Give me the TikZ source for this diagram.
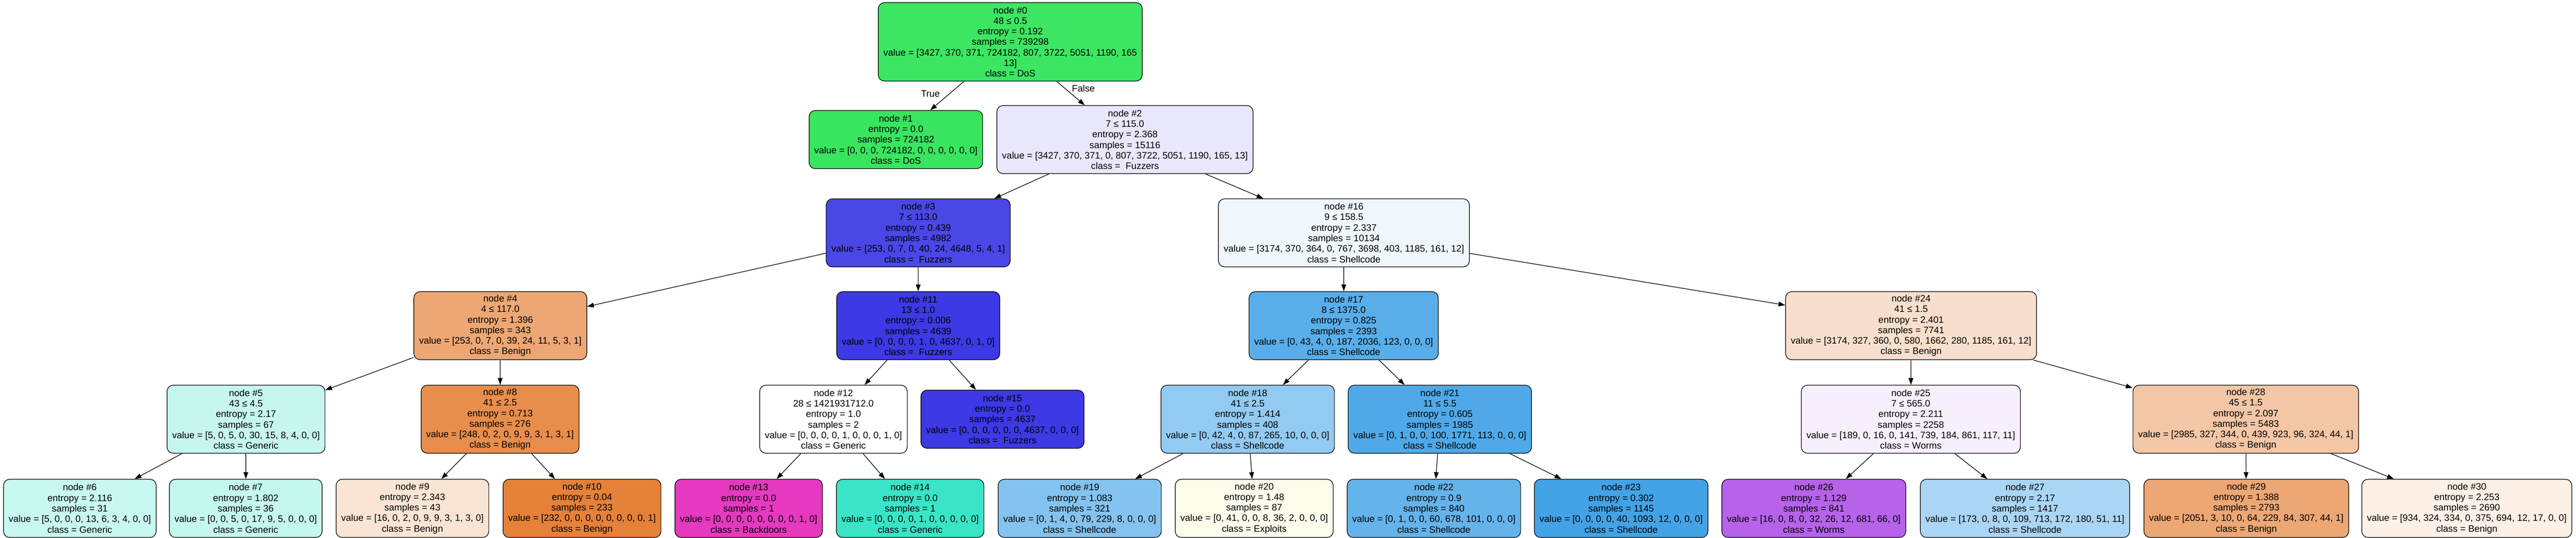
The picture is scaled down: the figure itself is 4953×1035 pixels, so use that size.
\documentclass[tikz,border=0pt]{standalone}
\usepackage{fontspec}
\setmainfont{Liberation Sans}
\usetikzlibrary{arrows.meta}

\definecolor{benign}{HTML}{E58139}
\definecolor{exploits}{HTML}{E2E539}
\definecolor{dos}{HTML}{39E55F}
\definecolor{generic}{HTML}{39E5C6}
\definecolor{shellcode}{HTML}{399EE5}
\definecolor{fuzzers}{HTML}{3C39E5}
\definecolor{worms}{HTML}{A339E5}
\definecolor{backdoors}{HTML}{E539C0}

\begin{document}
\begin{tikzpicture}[x=1pt, y=-1pt,
  box/.style={draw=black, line width=1.2pt, rounded corners=12pt, align=center,
    inner xsep=10pt, inner ysep=3pt, font={\fontsize{18}{20.3}\selectfont}},
  split/.style={box, minimum height=131pt},
  leaf/.style={box, minimum height=112pt},
  edge/.style={line width=1.2pt, -{Triangle[length=13pt,width=9pt]}},
  elabel/.style={font={\fontsize{18}{20.3}\selectfont}}]
\fill[white] (0,0) rectangle (4953,1035);
\useasboundingbox (0,0) rectangle (4953,1035);

% level 0
\node[box, minimum height=151pt, fill=dos!98!white] (n0) at (1942.5,80.5)
  {node \#0\\48 ≤ 0.5\\entropy = 0.192\\samples = 739298\\value = [3427, 370, 371, 724182, 807, 3722, 5051, 1190, 165\\13]\\class = DoS};

% level 1
\node[leaf, fill=dos] (n1) at (1722.5,268.5)
  {node \#1\\entropy = 0.0\\samples = 724182\\value = [0, 0, 0, 724182, 0, 0, 0, 0, 0, 0]\\class = DoS};
\node[split, fill=fuzzers!12!white] (n2) at (2163,268.5)
  {node \#2\\7 ≤ 115.0\\entropy = 2.368\\samples = 15116\\value = [3427, 370, 371, 0, 807, 3722, 5051, 1190, 165, 13]\\class =~ Fuzzers};

% level 2
\node[split, fill=fuzzers!93!white] (n3) at (1765.5,448)
  {node \#3\\7 ≤ 113.0\\entropy = 0.439\\samples = 4982\\value = [253, 0, 7, 0, 40, 24, 4648, 5, 4, 1]\\class =~ Fuzzers};
\node[split, fill=shellcode!8!white] (n16) at (2584,448)
  {node \#16\\9 ≤ 158.5\\entropy = 2.337\\samples = 10134\\value = [3174, 370, 364, 0, 767, 3698, 403, 1185, 161, 12]\\class = Shellcode};

% level 3
\node[split, fill=benign!70!white] (n4) at (962,626.5)
  {node \#4\\4 ≤ 117.0\\entropy = 1.396\\samples = 343\\value = [253, 0, 7, 0, 39, 24, 11, 5, 3, 1]\\class = Benign};
\node[split, fill=fuzzers] (n11) at (1765.5,626.5)
  {node \#11\\13 ≤ 1.0\\entropy = 0.006\\samples = 4639\\value = [0, 0, 0, 0, 1, 0, 4637, 0, 1, 0]\\class =~ Fuzzers};
\node[split, fill=shellcode!84!white] (n17) at (2583.5,626.5)
  {node \#17\\8 ≤ 1375.0\\entropy = 0.825\\samples = 2393\\value = [0, 43, 4, 0, 187, 2036, 123, 0, 0, 0]\\class = Shellcode};
\node[split, fill=benign!25!white] (n24) at (3674.5,626.5)
  {node \#24\\41 ≤ 1.5\\entropy = 2.401\\samples = 7741\\value = [3174, 327, 360, 0, 580, 1662, 280, 1185, 161, 12]\\class = Benign};

% level 4
\node[split, fill=generic!29!white] (n5) at (473,806.5)
  {node \#5\\43 ≤ 4.5\\entropy = 2.17\\samples = 67\\value = [5, 0, 5, 0, 30, 15, 8, 4, 0, 0]\\class = Generic};
\node[split, fill=benign!90!white] (n8) at (961.5,806.5)
  {node \#8\\41 ≤ 2.5\\entropy = 0.713\\samples = 276\\value = [248, 0, 2, 0, 9, 9, 3, 1, 3, 1]\\class = Benign};
\node[split, fill=white] (n12) at (1602.5,806.5)
  {node \#12\\28 ≤ 1421931712.0\\entropy = 1.0\\samples = 2\\value = [0, 0, 0, 0, 1, 0, 0, 0, 1, 0]\\class = Generic};
\node[leaf, fill=fuzzers] (n15) at (1927.5,806.5)
  {node \#15\\entropy = 0.0\\samples = 4637\\value = [0, 0, 0, 0, 0, 0, 4637, 0, 0, 0]\\class =~ Fuzzers};
\node[split, fill=shellcode!55!white] (n18) at (2399,806.5)
  {node \#18\\41 ≤ 2.5\\entropy = 1.414\\samples = 408\\value = [0, 42, 4, 0, 87, 265, 10, 0, 0, 0]\\class = Shellcode};
\node[split, fill=shellcode!89!white] (n21) at (2768.5,806.5)
  {node \#21\\11 ≤ 5.5\\entropy = 0.605\\samples = 1985\\value = [0, 1, 0, 0, 100, 1771, 113, 0, 0, 0]\\class = Shellcode};
\node[split, fill=worms!8!white] (n25) at (3674,806.5)
  {node \#25\\7 ≤ 565.0\\entropy = 2.211\\samples = 2258\\value = [189, 0, 16, 0, 141, 739, 184, 861, 117, 11]\\class = Worms};
\node[split, fill=benign!45!white] (n28) at (4318,806.5)
  {node \#28\\45 ≤ 1.5\\entropy = 2.097\\samples = 5483\\value = [2985, 327, 344, 0, 439, 923, 96, 324, 44, 1]\\class = Benign};

% level 5
\node[leaf, fill=generic!28!white] (n6) at (153.5,978)
  {node \#6\\entropy = 2.116\\samples = 31\\value = [5, 0, 0, 0, 13, 6, 3, 4, 0, 0]\\class = Generic};
\node[leaf, fill=generic!30!white] (n7) at (472.5,978)
  {node \#7\\entropy = 1.802\\samples = 36\\value = [0, 0, 5, 0, 17, 9, 5, 0, 0, 0]\\class = Generic};
\node[leaf, fill=benign!21!white] (n9) at (793,978)
  {node \#9\\entropy = 2.343\\samples = 43\\value = [16, 0, 2, 0, 9, 9, 3, 1, 3, 0]\\class = Benign};
\node[leaf, fill=benign] (n10) at (1119,978)
  {node \#10\\entropy = 0.04\\samples = 233\\value = [232, 0, 0, 0, 0, 0, 0, 0, 0, 1]\\class = Benign};
\node[leaf, fill=backdoors] (n13) at (1439.5,978)
  {node \#13\\entropy = 0.0\\samples = 1\\value = [0, 0, 0, 0, 0, 0, 0, 0, 1, 0]\\class = Backdoors};
\node[leaf, fill=generic] (n14) at (1750,978)
  {node \#14\\entropy = 0.0\\samples = 1\\value = [0, 0, 0, 0, 1, 0, 0, 0, 0, 0]\\class = Generic};
\node[leaf, fill=shellcode!62!white] (n19) at (2076,978)
  {node \#19\\entropy = 1.083\\samples = 321\\value = [0, 1, 4, 0, 79, 229, 8, 0, 0, 0]\\class = Shellcode};
\node[leaf, fill=exploits!10!white] (n20) at (2411.5,978)
  {node \#20\\entropy = 1.48\\samples = 87\\value = [0, 41, 0, 0, 8, 36, 2, 0, 0, 0]\\class = Exploits};
\node[leaf, fill=shellcode!78!white] (n22) at (2757,978)
  {node \#22\\entropy = 0.9\\samples = 840\\value = [0, 1, 0, 0, 60, 678, 101, 0, 0, 0]\\class = Shellcode};
\node[leaf, fill=shellcode!95!white] (n23) at (3117,978)
  {node \#23\\entropy = 0.302\\samples = 1145\\value = [0, 0, 0, 0, 40, 1093, 12, 0, 0, 0]\\class = Shellcode};
\node[leaf, fill=worms!79!white] (n26) at (3487.5,978)
  {node \#26\\entropy = 1.129\\samples = 841\\value = [16, 0, 8, 0, 32, 26, 12, 681, 66, 0]\\class = Worms};
\node[leaf, fill=shellcode!43!white] (n27) at (3893.5,978)
  {node \#27\\entropy = 2.17\\samples = 1417\\value = [173, 0, 8, 0, 109, 713, 172, 180, 51, 11]\\class = Shellcode};
\node[leaf, fill=benign!70!white] (n29) at (4319,978)
  {node \#29\\entropy = 1.388\\samples = 2793\\value = [2051, 3, 10, 0, 64, 229, 84, 307, 44, 1]\\class = Benign};
\node[leaf, fill=benign!12!white] (n30) at (4743,978)
  {node \#30\\entropy = 2.253\\samples = 2690\\value = [934, 324, 334, 0, 375, 694, 12, 17, 0, 0]\\class = Benign};

% edges
\foreach \a/\b in {0/1,0/2,2/3,2/16,3/4,3/11,4/5,4/8,5/6,5/7,8/9,8/10,11/12,11/15,
  12/13,12/14,16/17,16/24,17/18,17/21,18/19,18/20,21/22,21/23,24/25,24/28,
  25/26,25/27,28/29,28/30}
  \draw[edge] (n\a) -- (n\b);

\node[elabel] (ltrue) at (1789,180) {True};
\node[elabel] (lfalse) at (2083,170) {False};
\end{tikzpicture}
\end{document}
